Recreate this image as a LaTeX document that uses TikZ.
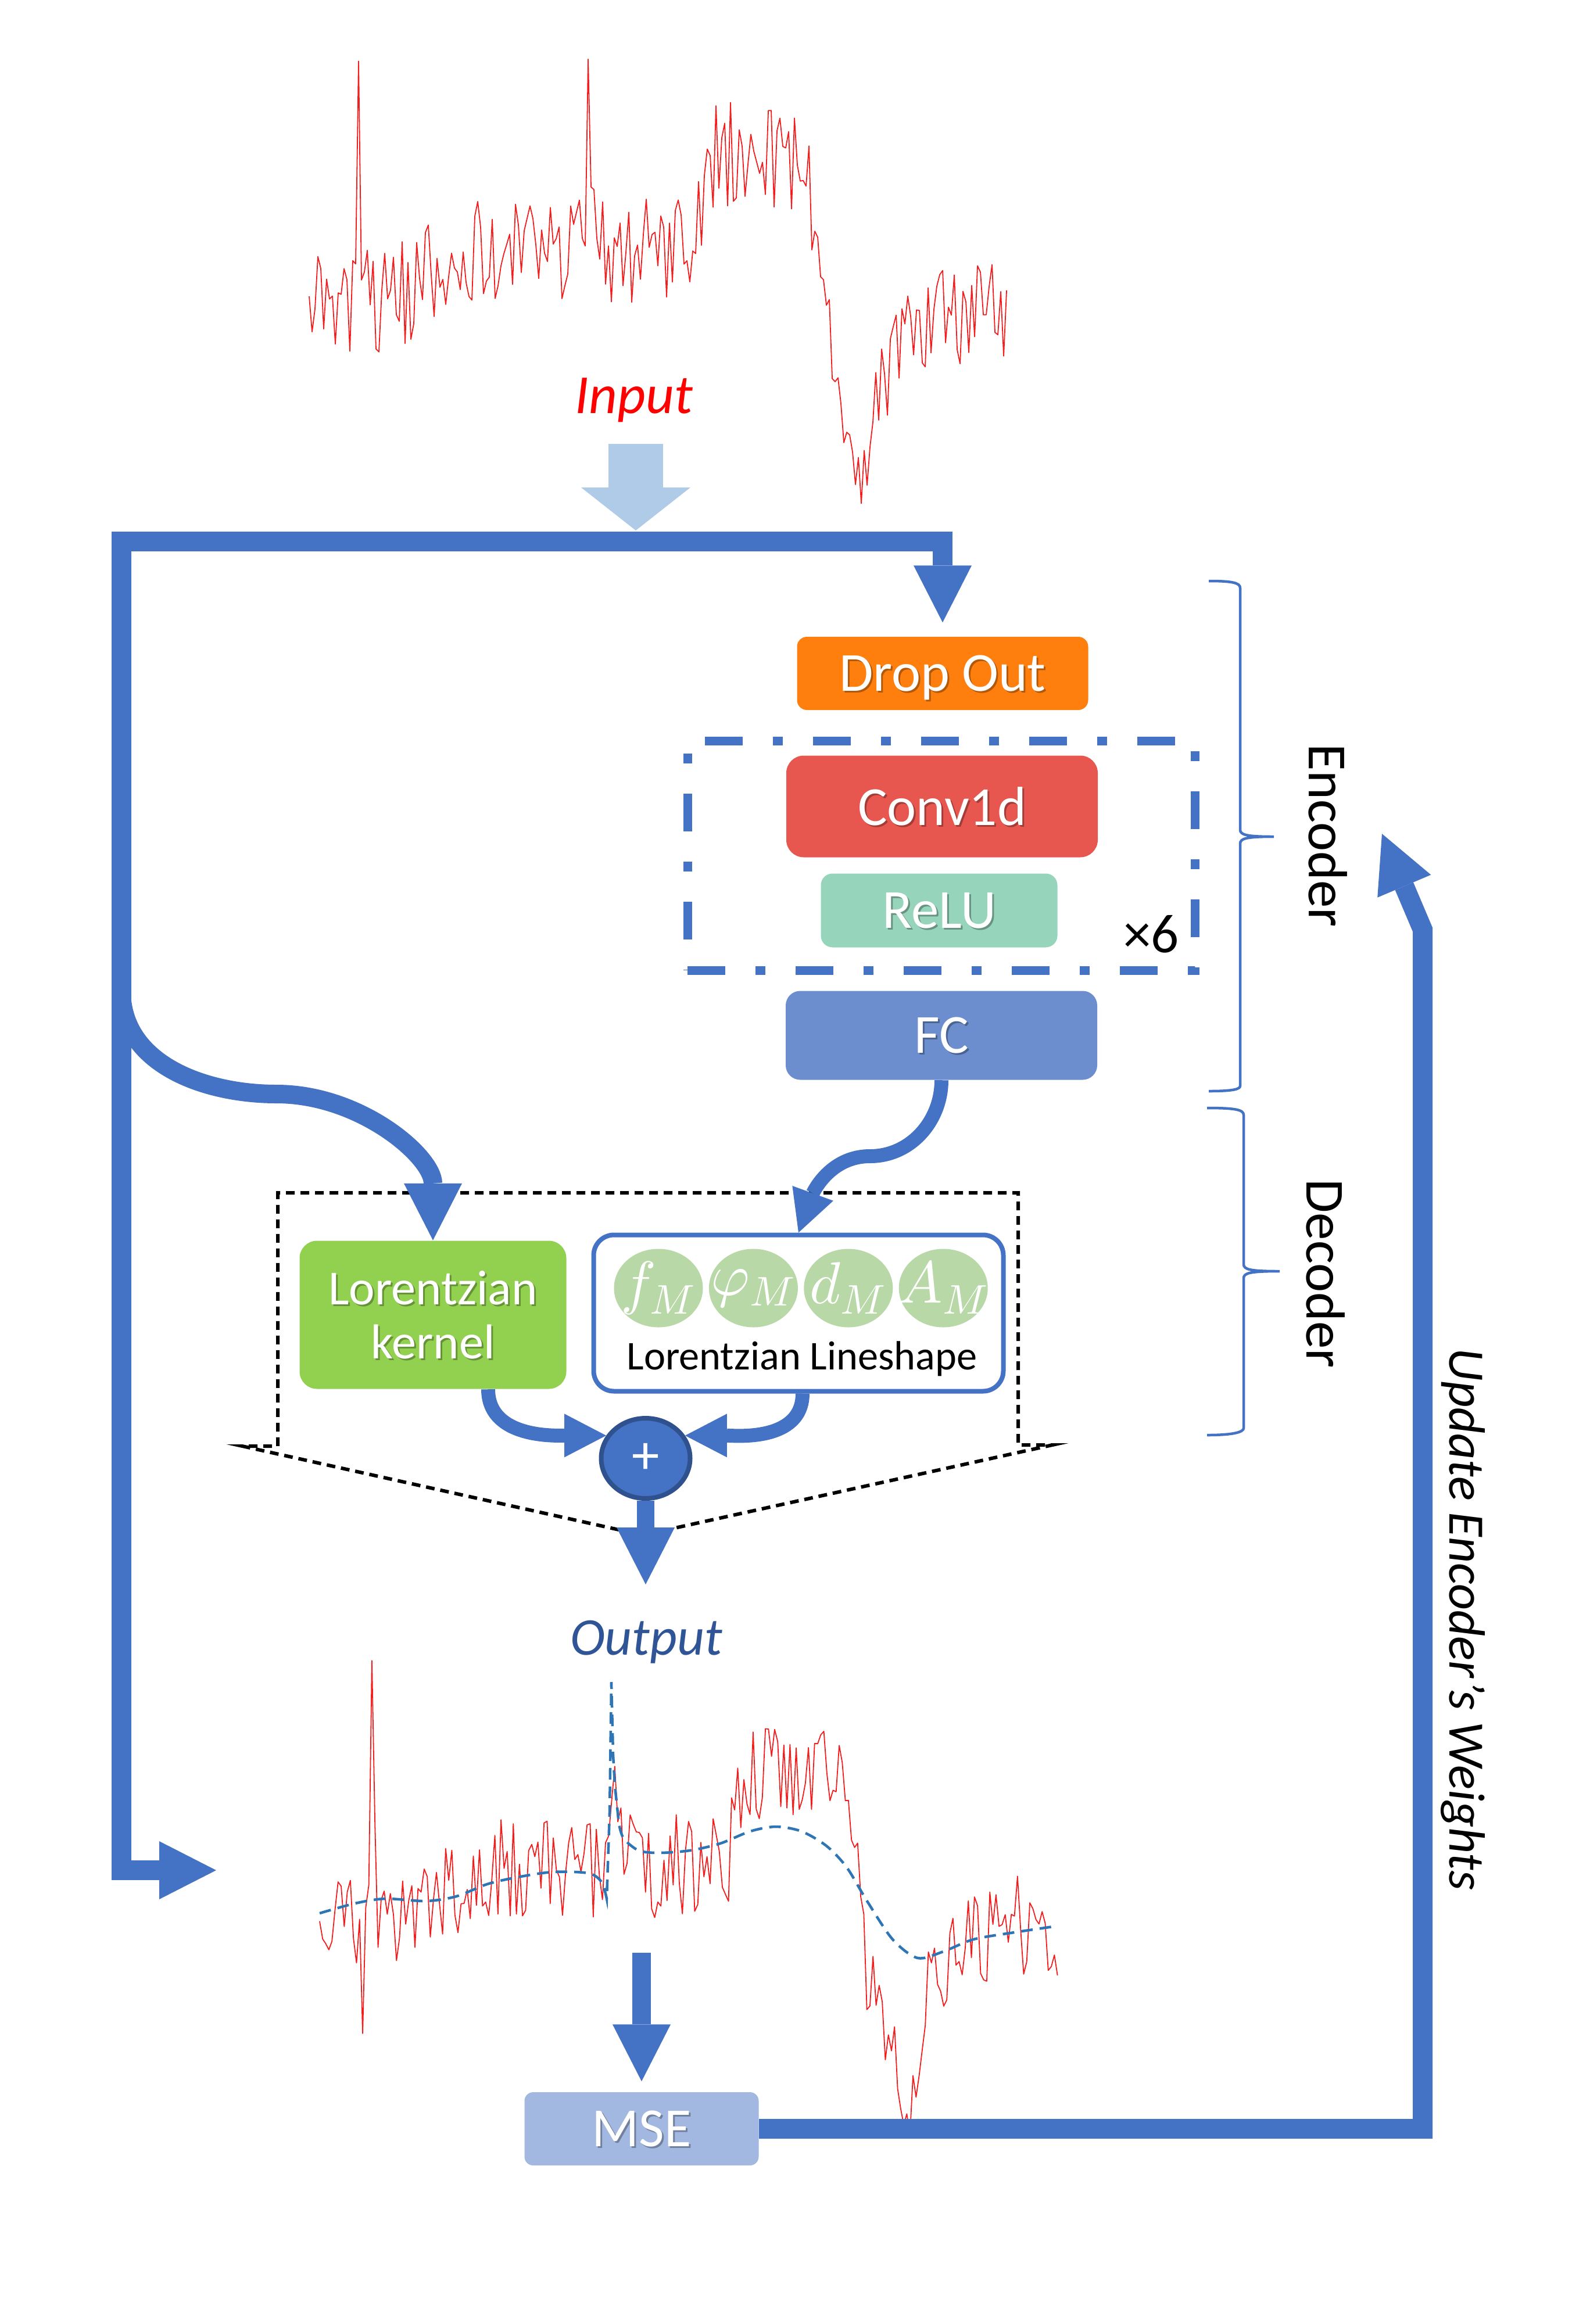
\documentclass[tikz,border=0pt]{standalone}
\usepackage{fontspec}
\setmainfont{Carlito}
\usepackage{amsmath}
\usetikzlibrary{shapes.geometric, arrows.meta, positioning, calc}
\DeclareFontShape{OML}{cmm}{m}{it}{<->cmmi10}{}
\definecolor{flowblue}{HTML}{4472C4}
\definecolor{inblue}{HTML}{AFCBE8}
\definecolor{dropcol}{HTML}{FF7F0E}
\definecolor{convcol}{HTML}{E7564F}
\definecolor{relucol}{HTML}{96D4BB}
\definecolor{fccol}{HTML}{6C8ECE}
\definecolor{msecol}{HTML}{A2B8E1}
\definecolor{kernelcol}{HTML}{92D050}
\definecolor{paramcol}{HTML}{B9D8A7}
\definecolor{plusedge}{HTML}{2F528F}
\definecolor{outcol}{HTML}{2F5597}
\definecolor{fitcol}{HTML}{2E75B6}
\definecolor{sigred}{HTML}{F21D1D}

\newcommand{\castshadow}[1]{\makebox[0pt][l]{\hspace{0.03cm}\raisebox{-0.03cm}{\pgfsetfillopacity{0.3}\color{black}#1\pgfsetfillopacity{1}}}#1}

\begin{document}
\begin{tikzpicture}[
    layer/.style={rectangle, rounded corners=0.2cm, inner sep=0pt, text=white, text depth=0pt, font=\fontsize{27}{32}\selectfont},
    param/.style={ellipse, fill=paramcol, minimum width=1.53cm, minimum height=1.35cm, inner sep=0pt, text=white, font=\fontsize{29}{34}\selectfont},
    txt/.style={font=\fontsize{27}{32}\selectfont},
    flow/.style={draw=flowblue, line width=0.34cm, -{Triangle[length=0.98cm, width=1cm, line width=0pt]}},
    thin flow/.style={draw=flowblue, line width=0.24cm, -{Triangle[length=0.72cm, width=0.75cm, line width=0pt]}},
    bracket/.style={draw=flowblue, line width=0.045cm},
    noisy/.style={sigred, line width=0.018cm, line join=round},
    fitline/.style={fitcol, line width=0.045cm, dash pattern=on 0.2cm off 0.12cm}
]
\useasboundingbox (0,0) rectangle (27.36,-40);

% Noisy input spectrum
\pgfmathsetseed{7}
\begin{scope}[shift={(5.32,-5.30)}, x=0.1cm, y=0.1cm]
\draw[noisy] plot[domain=0:120, samples=241] (\x, {(10*min(max((\x-12)/16,0),1) + 17*min(max((\x-66)/4,0),1))*min(max((89-\x)/3,0),1) + 3.96/(0.09+(\x-8.5)^2) + 2.25/(0.09+(\x-48)^2) - 1.17/(0.09+(\x-7)^2) - 297/(9+(\x-95)^2) + 9*rand});
\end{scope}

% Input
\node[font=\fontsize{27}{32}\selectfont\itshape, text=red] (inlabel) at (10.91,-6.89) {Input};
\coordinate (inshaft) at (10.94,-7.64);
\coordinate (intip) at (10.94,-9.13);
\draw[inblue, line width=0.94cm, -{Triangle[length=0.74cm, width=1.88cm, line width=0pt]}] (inshaft) -- (intip);

% Encoder
\node[layer, fill=dropcol, minimum width=5.01cm, minimum height=1.26cm, rounded corners=0.17cm] (dropout) at (16.22,-11.59) {\castshadow{Drop Out}};
\node[draw=flowblue, line width=0.15cm, dash pattern=on 0.65cm off 0.52cm on 0.17cm off 0.52cm, minimum width=8.73cm, minimum height=3.95cm] (repeat) at (16.195,-14.725) {};
\node[layer, fill=convcol, minimum width=5.36cm, minimum height=1.75cm, rounded corners=0.3cm] (conv) at (16.21,-13.88) {\castshadow{Conv1d}};
\node[layer, fill=relucol, minimum width=4.07cm, minimum height=1.27cm] (relu) at (16.16,-15.67) {\castshadow{ReLU}};
\node[txt] (times) at (19.81,-16.08) {×6};
\node[layer, fill=fccol, minimum width=5.36cm, minimum height=1.53cm, rounded corners=0.25cm] (fc) at (16.20,-17.82) {\castshadow{FC}};

% Decoder frame
\draw[black, line width=0.06cm, dash pattern=on 0.15cm off 0.1cm] (10.65,-26.33) -- (4.17,-24.89) -- (4.78,-24.89) -- (4.78,-20.53) -- (17.52,-20.53) -- (17.52,-24.87) -- (18.11,-24.87) -- (11.61,-26.30);

% Decoder
\node[layer, fill=kernelcol, minimum width=4.59cm, minimum height=2.55cm, rounded corners=0.3cm, align=center, font=\fontsize{24}{26.7}\selectfont] (kernel) at (7.45,-22.63) {\castshadow{Lorentzian}\\\castshadow{kernel}};
\node[draw=flowblue, line width=0.08cm, fill=white, rounded corners=0.35cm, minimum width=7.05cm, minimum height=2.69cm] (lineshape) at (13.74,-22.60) {};
\node[param] (pf) at (11.33,-22.17) {\makebox[0pt]{$f_M$}};
\node[param, right=0.09cm of pf] (pphi) {\makebox[0pt]{$\varphi_M$}};
\node[param, right=0.09cm of pphi] (pd) {\makebox[0pt]{$d_M$}};
\node[param, right=0.09cm of pd] (pa) {\makebox[0pt]{$A_M$}};
\node[font=\fontsize{20}{24}\selectfont] (lslabel) at (13.80,-23.39) {Lorentzian Lineshape};
\node[ellipse, fill=flowblue, draw=plusedge, line width=0.08cm, minimum width=1.53cm, minimum height=1.38cm, inner sep=0pt, text=white, font=\fontsize{27}{32}\selectfont] (plus) at (11.11,-25.10) {+};

% Braces
\draw[bracket] (20.80,-10.00) .. controls (21.20,-10.00) and (21.34,-10.03) .. (21.34,-10.12) -- (21.34,-14.28) .. controls (21.34,-14.37) and (21.45,-14.40) .. (21.92,-14.40) .. controls (21.45,-14.40) and (21.34,-14.43) .. (21.34,-14.52) -- (21.34,-18.69) .. controls (21.34,-18.75) and (21.20,-18.78) .. (20.80,-18.78);
\draw[bracket] (20.77,-19.07) .. controls (21.26,-19.07) and (21.40,-19.10) .. (21.40,-19.19) -- (21.40,-21.76) .. controls (21.40,-21.85) and (21.51,-21.88) .. (22.02,-21.88) .. controls (21.51,-21.88) and (21.40,-21.91) .. (21.40,-22.00) -- (21.40,-24.58) .. controls (21.40,-24.64) and (21.26,-24.70) .. (20.77,-24.70);
\node[txt, rotate=-90] (enclabel) at (22.85,-14.38) {Encoder};
\node[txt, rotate=-90] (declabel) at (22.81,-21.92) {Decoder};

% Output spectrum and fit
\node[font=\fontsize{26}{31}\selectfont\itshape, text=outcol] (outlabel) at (11.12,-28.26) {Output};
\pgfmathsetseed{11}
\begin{scope}[shift={(5.50,-33.10)}, x=0.1058cm, y=0.1cm]
\draw[noisy] plot[domain=0:120, samples=241] (\x, {(10*min(max((\x-12)/16,0),1) + 17*min(max((\x-66)/4,0),1))*min(max((89-\x)/3,0),1) + 3.96/(0.09+(\x-8.5)^2) + 2.25/(0.09+(\x-48)^2) - 1.17/(0.09+(\x-7)^2) - 297/(9+(\x-95)^2) + 9*rand});
\end{scope}
\draw[fitline] plot[smooth, tension=0.5] coordinates {(5.50,-32.93) (6.11,-32.76) (6.63,-32.68) (7.33,-32.72) (7.85,-32.64) (8.38,-32.43) (8.90,-32.31) (9.51,-32.22) (10.12,-32.24) (10.35,-32.39) (10.44,-32.68)} -- (10.49,-31.20) -- (10.52,-28.95) -- (10.55,-30.20) -- (10.58,-30.73) -- plot[smooth, tension=0.5] coordinates {(10.65,-31.39) (10.73,-31.64) (10.99,-31.85) (11.34,-31.89) (11.87,-31.85) (12.39,-31.73) (12.91,-31.52) (13.35,-31.44) (13.79,-31.52) (14.22,-31.77) (14.57,-32.14) (14.92,-32.72) (15.36,-33.38) (15.79,-33.70) (16.23,-33.59) (16.75,-33.38) (17.45,-33.26) (18.19,-33.15)};

% MSE
\node[layer, fill=msecol, minimum width=4.03cm, minimum height=1.26cm, rounded corners=0.15cm] (mse) at (11.04,-36.64) {\castshadow{MSE}};

% Connectors
\coordinate (ltop) at (2.09,-9.32);
\coordinate (outtip) at (3.72,-32.19);
\coordinate (branch) at (2.09,-17.05);
\coordinate (sumtip) at (11.11,-27.27);
\coordinate (msestart) at ([yshift=2.39cm]mse.north);
\coordinate (bend) at (24.48,-16.00);
\coordinate (updtip) at (23.78,-14.35);
\draw[flow, {Triangle[length=0.98cm, width=1cm, line width=0pt]}-{Triangle[length=0.98cm, width=1cm, line width=0pt]}] (outtip) -| (ltop) -| ([yshift=0.24cm]dropout.north);
\draw[flow, line width=0.32cm] (branch) to[out=-90, in=180] (4.76,-18.83) to[out=0, in=90] (kernel.north);
\draw[thin flow] (fc.south) to[out=-90, in=0] (14.97,-19.90) to[out=180, in=70] (lineshape.north);
\draw[thin flow] ([xshift=0.95cm]kernel.south) to[out=-90, in=180] (plus.150);
\draw[thin flow] ([xshift=0.07cm]lineshape.south) to[out=-90, in=0] (plus.30);
\draw[flow, line width=0.30cm] (plus.south) -- (sumtip);
\draw[flow, line width=0.32cm] (msestart) -- ([yshift=0.18cm]mse.north);
\draw[flow] (mse.east) -| (bend) -- (updtip);

% Feedback label
\node[font=\fontsize{25}{30}\selectfont\itshape, rotate=-90] (updlabel) at (25.17,-27.87) {Update Encoder’s Weights};

\end{tikzpicture}
\end{document}
